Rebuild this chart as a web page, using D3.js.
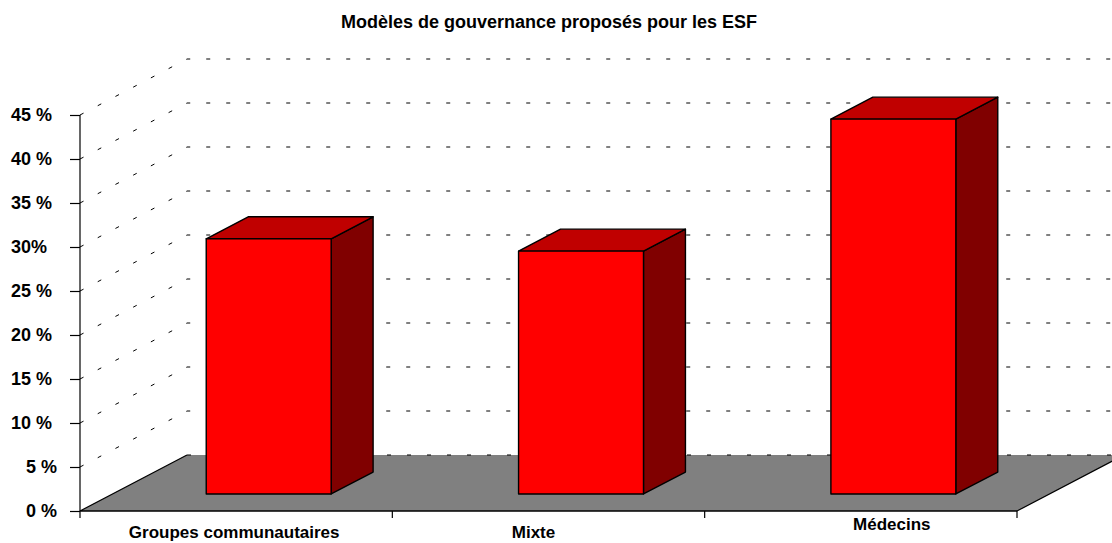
<!DOCTYPE html>
<html>
<head>
<meta charset="utf-8">
<script src="https://cdn.jsdelivr.net/npm/d3@7"></script>
<style>
  html, body { margin: 0; padding: 0; background: #fff; }
  svg { display: block; font-family: Arial, "Liberation Sans", sans-serif; }
</style>
</head>
<body>
<svg id="chart" width="1112" height="543"></svg>
<script>
// ---- data ----
const title = "Modèles de gouvernance proposés pour les ESF";
const categories = ["Groupes communautaires", "Mixte", "Médecins"];
const values = [29.0, 27.6, 42.6];
const tickValues = [0, 5, 10, 15, 20, 25, 30, 35, 40, 45];
const tickLabels = ["0 %", "5 %", "10 %", "15 %", "20 %", "25 %", "30%", "35 %", "40 %", "45 %"];

// ---- layout ----
const W = 1112, H = 543;
const svg = d3.select("#chart");
const plotLeft = 80, plotRight = 1017, plotBase = 511, plotTop = 115;
const depthX = 107, depthY = 56;     // oblique depth of the floor
const barD0 = 0.304, barD1 = 0.696;   // bar depth position (fraction of floor depth)

const y = d3.scaleLinear().domain([0, 45]).range([plotBase, plotTop]);
const x = d3.scaleBand().domain(categories).range([plotLeft, plotRight])
  .paddingInner(0.6).paddingOuter(0.3);

const colFront = "#ff0000", colTop = "#c00000", colSide = "#800000", colFloor = "#808080";

// gridlines (left wall diagonal + back wall horizontal)
const gridG = svg.append("g");
gridG.selectAll(null).data(tickValues.filter(v => v > 0)).enter().append("path")
  .attr("d", v => `M${plotLeft},${y(v)} L${plotLeft + depthX},${y(v) - depthY} L${W + 20},${y(v) - depthY}`)
  .attr("fill", "none").attr("stroke", "#000").attr("stroke-width", 1)
  .attr("stroke-dasharray", "4 16");

// floor
svg.append("path")
  .attr("d", `M${plotLeft},${plotBase} L${plotLeft + depthX},${plotBase - depthY} L${plotRight + depthX},${plotBase - depthY} L${plotRight},${plotBase} Z`)
  .attr("fill", colFloor).attr("stroke", "none");
svg.append("path")
  .attr("d", `M${plotLeft + depthX},${plotBase - depthY} L${plotLeft},${plotBase} L${plotRight},${plotBase} L${plotRight + depthX},${plotBase - depthY}`)
  .attr("fill", "none").attr("stroke", "#000").attr("stroke-width", 1.2);
// 0% back gridline on floor edge
svg.append("path")
  .attr("d", `M${plotLeft + depthX},${plotBase - depthY} L${W + 20},${plotBase - depthY}`)
  .attr("fill", "none").attr("stroke", "#000").attr("stroke-dasharray", "4 16");

// bars
const barsG = svg.append("g");
categories.forEach((c, i) => {
  const v = values[i];
  const fx = x(c) + barD0 * depthX, fyOff = barD0 * depthY;
  const bx = x(c) + barD1 * depthX, byOff = barD1 * depthY;
  const w = x.bandwidth();
  const yTopF = y(v) - fyOff, yBotF = y(0) - fyOff;
  const yTopB = y(v) - byOff, yBotB = y(0) - byOff;
  const g = barsG.append("g").attr("stroke", "#000").attr("stroke-width", 1.4).attr("stroke-linejoin", "round");
  g.append("path").attr("fill", colSide)
    .attr("d", `M${fx + w},${yTopF} L${bx + w},${yTopB} L${bx + w},${yBotB} L${fx + w},${yBotF} Z`);
  g.append("path").attr("fill", colTop)
    .attr("d", `M${fx},${yTopF} L${bx},${yTopB} L${bx + w},${yTopB} L${fx + w},${yTopF} Z`);
  g.append("rect").attr("fill", colFront)
    .attr("x", fx).attr("y", yTopF).attr("width", w).attr("height", yBotF - yTopF);
});

// y axis
const yAxis = d3.axisLeft(y).tickValues(tickValues).tickSize(10).tickFormat("");
const yg = svg.append("g").attr("transform", `translate(${plotLeft},0)`).call(yAxis);
yg.select(".domain").attr("d", `M0,${y(0)}V${y(45)}`).attr("stroke-width", 1.2);
yg.selectAll(".tick line").attr("stroke-width", 1.2);
svg.append("g").selectAll("text").data(tickValues).enter().append("text")
  .attr("x", (v, i) => tickLabels[i].replace(/[^0-9]/g, "").length > 1 ? 11 : 26)
  .attr("y", v => y(v) + 6)
  .attr("font-size", 18).attr("font-weight", "bold").attr("fill", "#000")
  .text((v, i) => tickLabels[i]);

// x axis
const xg = svg.append("g");
xg.append("line").attr("x1", plotLeft).attr("x2", plotRight).attr("y1", plotBase).attr("y2", plotBase)
  .attr("stroke", "#000").attr("stroke-width", 1.2);
const bounds = [plotLeft].concat(categories.map(c => x(c) - x.step() * x.paddingInner() / 2 + x.step()));
xg.selectAll(null).data(bounds).enter().append("line")
  .attr("x1", d => d).attr("x2", d => d).attr("y1", plotBase).attr("y2", plotBase + 7)
  .attr("stroke", "#000").attr("stroke-width", 1.2);
const labelDx = [-2, -15, 31], labelY = [538, 538, 530];
xg.selectAll(null).data(categories).enter().append("text")
  .attr("x", (c, i) => x(c) + x.bandwidth() / 2 + labelDx[i])
  .attr("y", (c, i) => labelY[i])
  .attr("text-anchor", "middle").attr("font-size", 17).attr("font-weight", "bold").attr("fill", "#000")
  .text(c => c);

// title
svg.append("text").attr("x", 549).attr("y", 28).attr("text-anchor", "middle")
  .attr("font-size", 18).attr("font-weight", "bold").attr("fill", "#000").text(title);
</script>
</body>
</html>
